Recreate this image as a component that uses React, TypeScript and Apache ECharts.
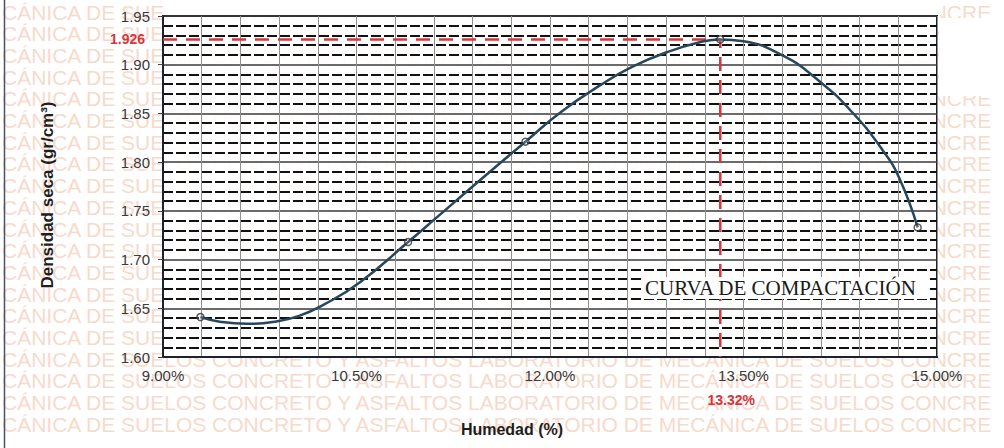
import { useEffect, useRef } from "react";
import * as echarts from "echarts";

// Measured points (Humedad %, Densidad seca g/cm3)
const humedad = [9.29, 10.9, 11.81, 13.32, 14.85];
const densidad = [1.641, 1.718, 1.821, 1.926, 1.733];

// Trend curve
const curveHumedad = [9.29, 9.45, 9.65, 9.85, 10.05, 10.25, 10.53, 10.9, 11.12, 11.4, 11.81, 12.08, 12.39, 12.64, 12.91, 13.16, 13.32, 13.5, 13.81, 14.07, 14.33, 14.58, 14.71, 14.85];
const curveDensidad = [1.641, 1.636, 1.634, 1.636, 1.642, 1.654, 1.677, 1.718, 1.743, 1.775, 1.821, 1.851, 1.879, 1.898, 1.913, 1.923, 1.926, 1.924, 1.909, 1.885, 1.853, 1.812, 1.783, 1.733];

// Optimum
const optHumedad = 13.32;
const optDensidad = 1.926;

// Axis ranges
const xMin = 9;
const xMax = 15;
const xStep = 1.5;
const yMin = 1.6;
const yMax = 1.95;
const yStep = 0.05;

const xTitle = "Humedad (%)";
const yTitle = "Densidad seca (gr/cm³)";
const curveTitle = "CURVA DE COMPACTACIÓN";
const watermark = "CÁNICA DE SUELOS CONCRETO Y ASFALTOS LABORATORIO DE MECÁNICA DE SUELOS CONCRE";

const SANS = "'Liberation Sans', Arial, sans-serif";
const SERIF = "'Liberation Serif', 'Times New Roman', serif";

export default function App() {
  const ref = useRef<HTMLDivElement>(null);
  useEffect(() => {
    if (!ref.current) return;
    const chart = echarts.init(ref.current, undefined, { renderer: "svg" });

    const option: any = {
      animation: false,
      backgroundColor: "#ffffff",
      grid: {
        left: 163,
        right: 67,
        top: 16,
        bottom: 91,
        show: true,
        backgroundColor: "rgba(255,255,255,0.88)",
        borderColor: "#1d2230",
        borderWidth: 2,
        z: 0,
      },
      xAxis: {
        type: "value",
        min: xMin,
        max: xMax,
        interval: xStep,
        axisLine: { show: true, lineStyle: { color: "#1d2230", width: 2 } },
        axisTick: { show: false },
        axisLabel: {
          margin: 11,
          fontFamily: SANS,
          fontSize: 15,
          color: "#3a3a3a",
          formatter: (v: number) => v.toFixed(2) + "%",
        },
        splitLine: { show: true, lineStyle: { color: "#8f8f8f", width: 1 } },
        minorTick: { show: false, splitNumber: 5 },
        minorSplitLine: { show: true, lineStyle: { color: "#8f8f8f", width: 1 } },
      },
      yAxis: {
        type: "value",
        min: yMin,
        max: yMax,
        interval: yStep,
        axisLine: { show: true, lineStyle: { color: "#1d2230", width: 2 } },
        axisTick: { show: true, length: 5, lineStyle: { color: "#444", width: 1 } },
        axisLabel: {
          margin: 13,
          fontFamily: SANS,
          fontSize: 15,
          color: "#3a3a3a",
          formatter: (v: number) => v.toFixed(2),
        },
        splitLine: { show: true, lineStyle: { color: "#3a3a3a", width: 1.5 } },
        minorTick: { show: false, splitNumber: 5 },
        minorSplitLine: { show: true, lineStyle: { color: "#111", width: 2, type: [10, 3] } },
      },
      series: [
        {
          type: "line",
          name: "optimo",
          data: [
            [xMin, optDensidad],
            [optHumedad, optDensidad],
            [optHumedad, yMin],
          ],
          symbol: "none",
          lineStyle: { color: "#d6363c", width: 2.5, type: [14, 9] },
          z: 3,
        },
        {
          type: "line",
          name: "curva",
          data: curveHumedad.map((x, i) => [x, curveDensidad[i]]),
          smooth: 0.5,
          symbol: "none",
          lineStyle: { color: "#27475c", width: 2.5 },
          z: 4,
        },
        {
          type: "scatter",
          name: "puntos",
          data: humedad.map((x, i) => [x, densidad[i]]),
          symbol: "circle",
          symbolSize: 7,
          itemStyle: { color: "rgba(255,255,255,0.2)", borderColor: "#333", borderWidth: 1.5 },
          z: 5,
        },
      ],
    };
    chart.setOption(option);

    const [ox, oy] = chart.convertToPixel({ gridIndex: 0 }, [optHumedad, optDensidad]) as number[];
    const [x0, y0] = chart.convertToPixel({ gridIndex: 0 }, [xMin, yMin]) as number[];
    const [x1, y1] = chart.convertToPixel({ gridIndex: 0 }, [xMax, yMax]) as number[];

    const graphics: any[] = [];
    // watermark rows
    for (let k = 0; k < 20; k++) {
      graphics.push({
        type: "text",
        z: -10,
        silent: true,
        x: 2,
        y: 12 + k * 21.7,
        style: {
          text: watermark,
          font: `21px ${SANS}`,
          fill: "#f7dacb",
          textVerticalAlign: "middle",
        },
      });
    }
    // blank patches over the watermark
    graphics.push({ type: "rect", z: -9, silent: true, shape: { x: 165, y: 0, width: x1 - 165 + 4, height: y1 - 1 }, style: { fill: "#fff" } });
    graphics.push({ type: "rect", z: -9, silent: true, shape: { x: x1 + 2, y: 18, width: 70, height: 78 }, style: { fill: "#fff" } });
    // left frame line
    graphics.push({ type: "line", z: -8, silent: true, shape: { x1: 4.5, y1: 0, x2: 4.5, y2: 448 }, style: { stroke: "#4a5266", lineWidth: 1.5 } });

    // optimum labels
    graphics.push({
      type: "text",
      z: 10,
      x: x0 - 18,
      y: oy,
      style: { text: optDensidad.toFixed(3), font: `bold 14px ${SANS}`, fill: "#d6363c", textAlign: "right", textVerticalAlign: "middle" },
    });
    graphics.push({
      type: "text",
      z: 10,
      x: ox + 11,
      y: y0 + 43,
      style: { text: optHumedad.toFixed(2) + "%", font: `bold 14px ${SANS}`, fill: "#d6363c", textAlign: "center", textVerticalAlign: "middle" },
    });

    // curve title inside the plot
    graphics.push({
      type: "rect",
      z: 9,
      shape: { x: 643, y: 277, width: 286, height: 22 },
      style: { fill: "#ffffff" },
    });
    graphics.push({
      type: "text",
      z: 10,
      x: 645,
      y: 288,
      style: { text: curveTitle, font: `21px ${SERIF}`, fill: "#1a1a1a", textAlign: "left", textVerticalAlign: "middle" },
    });

    // axis titles
    graphics.push({
      type: "text",
      z: 10,
      x: 512,
      y: 429,
      style: { text: xTitle, font: `bold 16px ${SANS}`, fill: "#1e1e1e", textAlign: "center", textVerticalAlign: "middle" },
    });
    graphics.push({
      type: "text",
      z: 10,
      x: 47,
      y: 195,
      rotation: Math.PI / 2,
      style: { text: yTitle, font: `bold 17px ${SANS}`, fill: "#1e1e1e", textAlign: "center", textVerticalAlign: "middle" },
    });

    chart.setOption({ graphic: graphics });

    return () => chart.dispose();
  }, []);

  return (
    <div
      ref={ref}
      style={{ position: "absolute", left: 0, top: 0, width: 1004, height: 448, background: "#fff" }}
    />
  );
}
